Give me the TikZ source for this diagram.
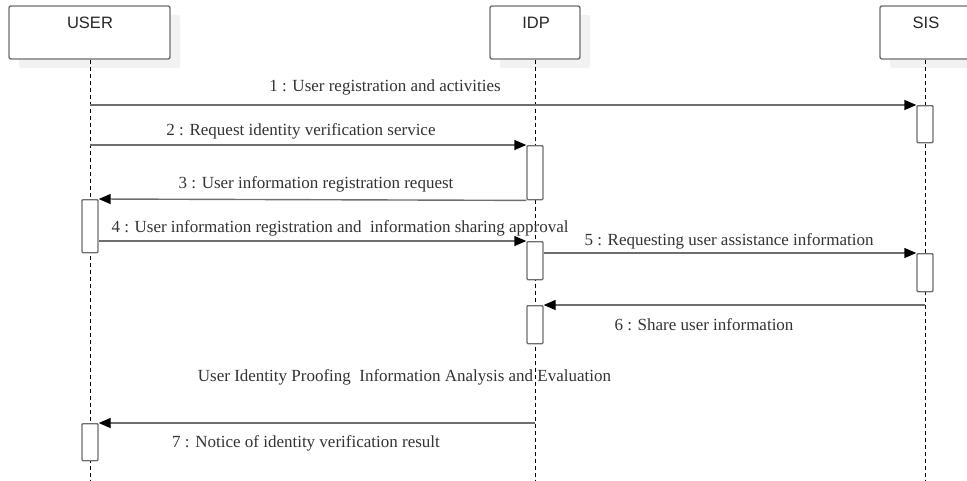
\documentclass[tikz,border=0pt]{standalone}
\usepackage{fontspec}
\setmainfont{Liberation Serif}
\newfontfamily\hdrfont{Liberation Sans}
\usetikzlibrary{arrows.meta,shadows}
\definecolor{ln}{HTML}{6E6E6E}
\definecolor{tx}{HTML}{333333}
\definecolor{shd}{HTML}{F2F2F2}
\begin{document}
\begin{tikzpicture}[x=1pt,y=-1pt,
  headbox/.style={draw=ln, line width=1.4pt, fill=white, rounded corners=2pt,
    minimum height=53pt, inner sep=0pt,
    general shadow={fill=shd, shadow xshift=10pt, shadow yshift=-9pt}},
  hdrtxt/.style={font=\hdrfont\fontsize{16.5}{18}\selectfont, text=black!85, inner sep=0pt},
  act/.style={draw=ln, line width=1.4pt, fill=white, rounded corners=1pt,
    minimum width=16pt, inner sep=0pt, anchor=north},
  life/.style={draw=black, line width=0.8pt, dash pattern=on 4pt off 3pt},
  msg/.style={draw=ln, line width=1.4pt, -{Triangle[length=12pt,width=10pt,color=black]}},
  lbl/.style={font=\fontsize{17}{19}\selectfont, text=tx, inner sep=0pt}]
\useasboundingbox (0,0) rectangle (967,480);
% headers
\node[headbox, minimum width=161pt] (user) at (89.5,32.5) {};
\node[headbox, minimum width=90pt] (idp) at (535,32.5) {};
\node[headbox, minimum width=90pt] (sis) at (925,32.5) {};
\node[hdrtxt] (usertxt) at (90,23) {USER};
\node[hdrtxt] (idptxt) at (536,23) {IDP};
\node[hdrtxt] (sistxt) at (926,23) {SIS};
% lifelines
\coordinate (userend) at (90,480);
\coordinate (idpend) at (535,480);
\coordinate (sisend) at (925,480);
\draw[life] (user.south -| userend) -- (userend);
\draw[life] (idp.south) -- (idpend);
\draw[life] (sis.south) -- (sisend);
% activations
\node[act, minimum height=37pt] (s1) at (925,105) {};
\node[act, minimum height=54pt] (i1) at (535,145) {};
\node[act, minimum height=53pt] (u1) at (90,199) {};
\node[act, minimum height=38pt] (i2) at (535,241) {};
\node[act, minimum height=38pt] (s2) at (925,253) {};
\node[act, minimum height=38pt] (i3) at (535,305) {};
\node[act, minimum height=37pt] (u2) at (90,423) {};
% messages
\draw[msg] (userend |- s1.north) -- (s1.north west);
\draw[msg] (userend |- i1.north) -- (i1.north west);
\draw[msg] (i1.south west) -- (u1.north east);
\draw[msg] (u1.east |- i2.north) -- (i2.north west);
\draw[msg] (i2.east |- s2.north) -- (s2.north west);
\draw[msg] (sisend |- i3.north) -- (i3.north east);
\draw[msg] (idpend |- u2.north) -- (u2.north east);
% labels
\node[lbl] (l1) at (385,87) {1 : User registration and activities};
\node[lbl] (l2) at (301,131) {2 : Request identity verification service};
\node[lbl] (l3) at (316,184) {3 : User information registration request};
\node[lbl] (l4) at (340,228) {4 : User information registration and \ information sharing approval};
\node[lbl] (l5) at (729,241) {5 : Requesting user assistance information};
\node[lbl] (l6) at (704,325) {6 : Share user information};
\node[lbl] (l7) at (306,443) {7 : Notice of identity verification result};
\node[lbl] (note) at (404.5,377) {User Identity Proofing \ Information Analysis and Evaluation};
\end{tikzpicture}
\end{document}
